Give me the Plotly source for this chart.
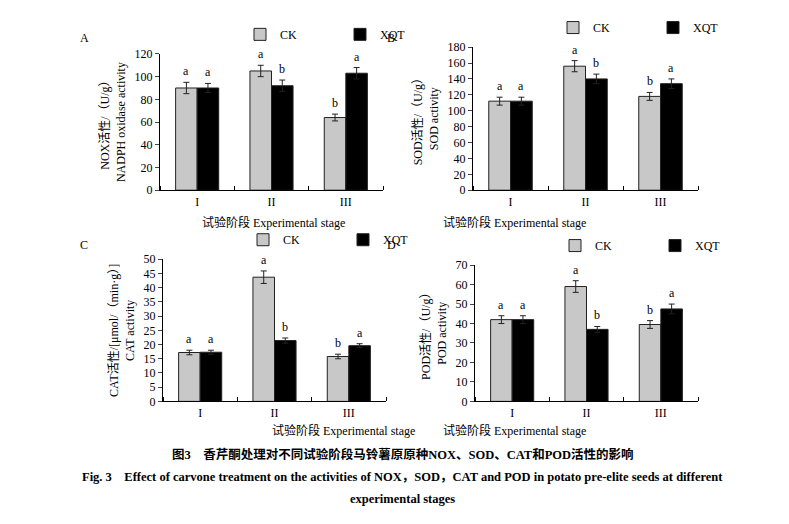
import plotly.graph_objects as go

stages = ["I", "II", "III"]
xpos = [1, 2, 3]

nox_ck = [90, 105, 64]
nox_xqt = [90, 92, 103]
nox_ck_err = [5, 5, 3]
nox_xqt_err = [4, 5, 5]
nox_ck_sig = ["a", "a", "b"]
nox_xqt_sig = ["a", "b", "a"]

sod_ck = [112, 156, 118]
sod_xqt = [112, 140, 134]
sod_ck_err = [5, 7, 5]
sod_xqt_err = [5, 6, 6]
sod_ck_sig = ["a", "a", "b"]
sod_xqt_sig = ["a", "b", "a"]

cat_ck = [17.2, 43.7, 15.8]
cat_xqt = [17.3, 21.4, 19.6]
cat_ck_err = [0.8, 2.2, 0.8]
cat_xqt_err = [0.7, 0.9, 0.7]
cat_ck_sig = ["a", "a", "b"]
cat_xqt_sig = ["a", "b", "a"]

pod_ck = [42, 59, 39.5]
pod_xqt = [42, 37, 47.5]
pod_ck_err = [2, 3, 2]
pod_xqt_err = [2, 1.5, 2.5]
pod_ck_sig = ["a", "a", "b"]
pod_xqt_sig = ["a", "b", "a"]

SERIF = "Liberation Serif, Noto Sans CJK SC"
W, H = 789, 524

def px(v):
    return v / W

def py(v):
    return 1 - v / H

panels = [
    # letter, ck, xqt, errs, sigs, ytitle, range, dtick, x domain(px), y domain(px), legend pos
    ("A", nox_ck, nox_xqt, nox_ck_err, nox_xqt_err, nox_ck_sig, nox_xqt_sig,
     "NOX活性/（U/g）<br>NADPH oxidase activity", 120, 20, (152, 375), (40, 180), (70, 14), (265, 213)),
    ("B", sod_ck, sod_xqt, sod_ck_err, sod_xqt_err, sod_ck_sig, sod_xqt_sig,
     "SOD活性/（U/g）<br>SOD activity", 180, 20, (465, 690), (33, 180), (383, 14), (580, 213)),
    ("C", cat_ck, cat_xqt, cat_ck_err, cat_xqt_err, cat_ck_sig, cat_xqt_sig,
     "CAT活性/[μmol/（min·g）]<br>CAT activity", 50, 5, (155, 378), (251, 397), (70, 236), (262, 437)),
    ("D", pod_ck, pod_xqt, pod_ck_err, pod_xqt_err, pod_ck_sig, pod_xqt_sig,
     "POD活性/（U/g）<br>POD activity", 70, 10, (467, 690), (257, 397), (383, 236), (580, 437)),
]

fig = go.Figure()
annotations = []
bw = 0.29
for i, (letter, ck, xqt, eck, exq, sck, sxq, ytitle, ymax, dtick, xd, yd, lp, xt) in enumerate(panels):
    n = "" if i == 0 else str(i + 1)
    leg = "legend" + n
    xa, ya = "x" + n, "y" + n
    for name, vals, errs, sigs, color, off in [
        ("CK", ck, eck, sck, "#c8c8c8", -bw / 2),
        ("XQT", xqt, exq, sxq, "#000000", bw / 2),
    ]:
        xs = [x + off for x in xpos]
        fig.add_trace(go.Bar(
            x=xs, y=vals, width=bw, name=name, legend=leg, xaxis=xa, yaxis=ya,
            marker=dict(color=color, line=dict(color="#222", width=1)),
            error_y=dict(type="data", array=errs, color="#222", thickness=1, width=3),
        ))
        for x, v, e, s in zip(xs, vals, errs, sigs):
            annotations.append(dict(x=x, y=v + e, xref=xa, yref=ya, text=s, showarrow=False,
                                    yanchor="bottom", yshift=2, font=dict(size=12, family=SERIF, color="black")))
    fig.layout[("xaxis" + n)] = dict(
        domain=[px(xd[0]), px(xd[1])], anchor=ya, range=[0.5, 3.5],
        tickvals=xpos, ticktext=stages, ticks="", showline=True, linecolor="black",
        showgrid=False, zeroline=False, tickfont=dict(size=12, family=SERIF, color="black"),
        minor=dict(tickvals=[0.5, 1.5, 2.5, 3.5], ticks="inside", ticklen=4, tickcolor="black"),
    )
    fig.layout[("yaxis" + n)] = dict(
        domain=[py(yd[1]), py(yd[0])], anchor=xa, range=[0, ymax], dtick=dtick,
        showline=True, linecolor="black", ticks="outside", ticklen=4, showgrid=False,
        zeroline=False, tickfont=dict(size=12, family=SERIF, color="black"),
        title=dict(text=ytitle, font=dict(size=12, family=SERIF, color="black"), standoff=6),
    )
    fig.layout[leg] = dict(orientation="h", x=px(xd[0] + 80), y=py(yd[0] - 35), yanchor="top",
                           xanchor="left", font=dict(size=12, family=SERIF, color="black"),
                           bgcolor="rgba(0,0,0,0)", itemwidth=30, entrywidth=55)
    annotations.append(dict(x=px(lp[0]), y=py(lp[1]), xref="paper", yref="paper", text=letter,
                            showarrow=False, font=dict(size=12, family=SERIF, color="black")))
    annotations.append(dict(x=px(xt[0]), y=py(xt[1]), xref="paper", yref="paper",
                            text="试验阶段 Experimental stage", showarrow=False,
                            font=dict(size=12, family=SERIF, color="black")))

captions = [
    (461, "<b>图3　香芹酮处理对不同试验阶段马铃薯原原种NOX、SOD、CAT和POD活性的影响</b>"),
    (484, "<b>Fig. 3　Effect of carvone treatment on the activities of NOX，SOD，CAT and POD in potato pre-elite seeds at different</b>"),
    (507, "<b>experimental stages</b>"),
]
for yy, t in captions:
    annotations.append(dict(x=0.5, y=py(yy), xref="paper", yref="paper", text=t, showarrow=False,
                            font=dict(size=12.5, family=SERIF, color="black")))

fig.update_layout(
    width=W, height=H, margin=dict(l=0, r=0, t=0, b=0),
    paper_bgcolor="white", plot_bgcolor="white", barmode="overlay",
    annotations=annotations, font=dict(family=SERIF),
)
fig.write_html("out.html")
